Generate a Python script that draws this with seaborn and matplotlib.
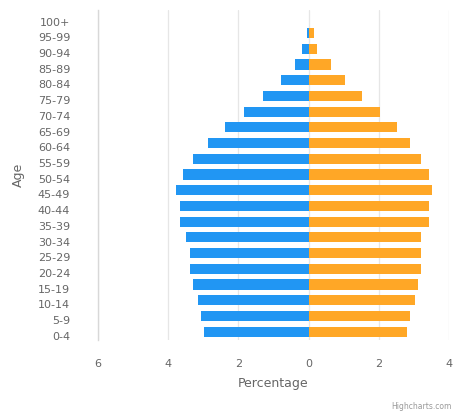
import matplotlib
matplotlib.use("Agg")
import matplotlib.pyplot as plt
import matplotlib.transforms as mtransforms
import pandas as pd
import seaborn as sns

ages = ["100+", "95-99", "90-94", "85-89", "80-84", "75-79", "70-74",
        "65-69", "60-64", "55-59", "50-54", "45-49", "40-44", "35-39",
        "30-34", "25-29", "20-24", "15-19", "10-14", "5-9", "0-4"]
male = [0.0, 0.04, 0.2, 0.4, 0.78, 1.29, 1.85, 2.37, 2.86, 3.28, 3.59,
        3.79, 3.66, 3.66, 3.49, 3.37, 3.37, 3.28, 3.15, 3.07, 2.98]
female = [0.0, 0.16, 0.25, 0.63, 1.05, 1.52, 2.03, 2.52, 2.89, 3.2, 3.42,
          3.51, 3.44, 3.44, 3.2, 3.2, 3.2, 3.11, 3.04, 2.9, 2.81]
x_ticks = [-6, -4, -2, 0, 2, 4]
x_tick_labels = ["6", "4", "2", "0", "2", "4"]

df = pd.concat([
    pd.DataFrame({"Age": ages, "Percentage": [-v for v in male], "Sex": "Male"}),
    pd.DataFrame({"Age": ages, "Percentage": female, "Sex": "Female"}),
])

sns.set_theme(style="white")
plt.rcParams["font.family"] = ["DejaVu Sans"]

fig = plt.figure(figsize=(4.54, 4.16), dpi=100)
# right edge pulled in a little so the last tick label is not clipped
ax = fig.add_axes([98 / 454, 1 - 339.5 / 416, (449 - 98) / 454, 330 / 416])

sns.barplot(data=df, x="Percentage", y="Age", hue="Sex", order=ages,
            palette={"Male": "#2196f3", "Female": "#ffa726"},
            dodge=False, width=0.65, orient="h", legend=False, ax=ax,
            linewidth=0, saturation=1)

ax.set_xlim(-6, 4)
ax.set_xticks(x_ticks)
ax.set_xticklabels(x_tick_labels)
ax.grid(axis="x", color="#e6e6e6", linewidth=0.9)
ax.set_axisbelow(True)
for side in ["top", "right", "bottom"]:
    ax.spines[side].set_visible(False)
ax.spines["left"].set_color("#d8d8d8")
ax.spines["left"].set_linewidth(1.0)

ax.tick_params(axis="both", length=0, labelsize=8, colors="#666666")
ax.tick_params(axis="x", pad=14)
ax.tick_params(axis="y", pad=20)
shift = mtransforms.ScaledTranslation(0, -3 / 72, fig.dpi_scale_trans)
for lbl in ax.get_yticklabels():
    lbl.set_transform(lbl.get_transform() + shift)

ax.set_xlabel("Percentage", fontsize=9, color="#666666", labelpad=6)
ax.set_ylabel("Age", fontsize=9, color="#666666", labelpad=9)

fig.text(0.995, 0.012, "Highcharts.com", ha="right", va="bottom",
         fontsize=5.5, color="#999999")

fig.savefig("out.png", dpi=100)
